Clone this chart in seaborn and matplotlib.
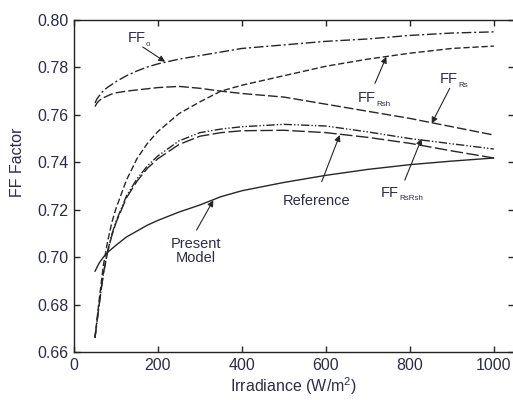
import pandas as pd
import matplotlib
matplotlib.use("Agg")
import matplotlib.pyplot as plt
import seaborn as sns

sns.set_style("ticks")
plt.rcParams["font.family"] = ["Liberation Sans", "DejaVu Sans"]
plt.rcParams["mathtext.fontset"] = "custom"
plt.rcParams["mathtext.rm"] = "Liberation Sans"
plt.rcParams["mathtext.it"] = "Liberation Sans"

# ---------------------------
# Data
# ---------------------------
irradiance = [50, 55, 60, 70, 80, 90, 100, 125, 150, 175, 200, 250, 300,
              350, 400, 500, 600, 700, 800, 900, 1000]

ff_o = [0.7650, 0.7668, 0.7680, 0.7702, 0.7716, 0.7728, 0.7740, 0.7765,
        0.7785, 0.7802, 0.7815, 0.7835, 0.7850, 0.7865, 0.7880, 0.7895,
        0.7910, 0.7920, 0.7935, 0.7945, 0.7950]
ff_rs = [0.7635, 0.7650, 0.7660, 0.7672, 0.7680, 0.7688, 0.7693, 0.7700,
         0.7705, 0.7710, 0.7715, 0.7720, 0.7712, 0.7700, 0.7690, 0.7675,
         0.7645, 0.7615, 0.7585, 0.7550, 0.7515]
ff_rsh = [0.6660, 0.6740, 0.6820, 0.6965, 0.7065, 0.7145, 0.7205, 0.7325,
          0.7415, 0.7480, 0.7530, 0.7605, 0.7655, 0.7700, 0.7725, 0.7765,
          0.7805, 0.7835, 0.7860, 0.7880, 0.7890]
reference = [0.6660, 0.6730, 0.6800, 0.6930, 0.7020, 0.7090, 0.7145, 0.7250,
             0.7320, 0.7375, 0.7415, 0.7475, 0.7510, 0.7525, 0.7533, 0.7535,
             0.7525, 0.7505, 0.7480, 0.7448, 0.7418]
ff_rs_rsh = [0.6660, 0.6730, 0.6800, 0.6930, 0.7025, 0.7095, 0.7150, 0.7258,
             0.7330, 0.7385, 0.7427, 0.7490, 0.7525, 0.7540, 0.7550, 0.7560,
             0.7553, 0.7528, 0.7500, 0.7478, 0.7456]
present_model = [0.6940, 0.6958, 0.6975, 0.7000, 0.7020, 0.7035, 0.7050,
                 0.7085, 0.7110, 0.7135, 0.7155, 0.7190, 0.7220, 0.7255,
                 0.7280, 0.7315, 0.7345, 0.7370, 0.7390, 0.7405, 0.7418]

x_ticks = [0, 200, 400, 600, 800, 1000]
y_ticks = [0.66, 0.68, 0.70, 0.72, 0.74, 0.76, 0.78, 0.80]

line_color = "#262626"
text_color = "#2c2c4a"

series = [
    (ff_o, (0, (7, 2, 1.5, 2))),
    (ff_rs, (0, (7, 2.2))),
    (ff_rsh, (0, (4.5, 2))),
    (reference, (0, (9, 2.5))),
    (ff_rs_rsh, (0, (6, 1.5, 1, 1.5, 1, 1.5))),
    (present_model, "-"),
]

fig = plt.figure(figsize=(5.13, 4.0), dpi=100)
ax = fig.add_axes([0.1442, 0.12, 0.8577, 0.83])

for values, style in series:
    sns.lineplot(x=irradiance, y=values, ax=ax, color=line_color,
                 linewidth=1.0, linestyle=style)

ax.set_xlim(0, 1048)
ax.set_ylim(0.66, 0.80)
ax.set_xticks(x_ticks)
ax.set_yticks(y_ticks)
ax.set_yticklabels([f"{v:.2f}" for v in y_ticks])
ax.tick_params(direction="in", top=True, right=True, length=4, width=1,
               labelsize=11.5, labelcolor=text_color, pad=4)
for side in ax.spines.values():
    side.set_linewidth(1.0)
    side.set_color("#222222")

ax.set_xlabel("Irradiance (W/m$^2$)", fontsize=11.5, color=text_color,
              labelpad=2)
ax.set_ylabel("FF Factor", fontsize=11.5, color=text_color)
ax.yaxis.set_label_coords(-0.111, 0.57)

# ---------------------------
# Annotations
# ---------------------------
arrow = dict(arrowstyle="-|>", color=line_color, lw=0.8, mutation_scale=9,
             shrinkA=0, shrinkB=0)
label_size = 10.5


def ff_label(x, y, sub):
    ax.text(x, y, "FF", ha="left", va="baseline", fontsize=label_size,
            color=text_color)
    ax.annotate(sub, xy=(x, y), xytext=(1.25 * label_size, -2.5),
                textcoords="offset points", ha="left", va="baseline",
                fontsize=label_size * 0.55, color=text_color)


ff_label(128, 0.7907, "o")
ff_label(676, 0.7654, "Rsh")
ff_label(871, 0.7734, "Rs")
ff_label(731, 0.7254, "RsRsh")
ax.text(577, 0.7237, "Reference", ha="center", va="center",
        fontsize=label_size, color=text_color)
ax.text(290, 0.7026, "Present\nModel", ha="center", va="center",
        fontsize=label_size, color=text_color, linespacing=1.0)

arrow_tips = [(217, 0.7824), (744, 0.7845), (852, 0.7564), (633, 0.7515),
              (828, 0.7500), (332, 0.7240)]
arrow_tails = [(164, 0.7886), (717, 0.7733), (895, 0.7712), (590, 0.7318),
               (788, 0.7325), (292, 0.7114)]
for tip, tail in zip(arrow_tips, arrow_tails):
    ax.annotate("", xy=tip, xytext=tail, arrowprops=arrow)

fig.savefig("out.png", dpi=100)
plt.close(fig)
